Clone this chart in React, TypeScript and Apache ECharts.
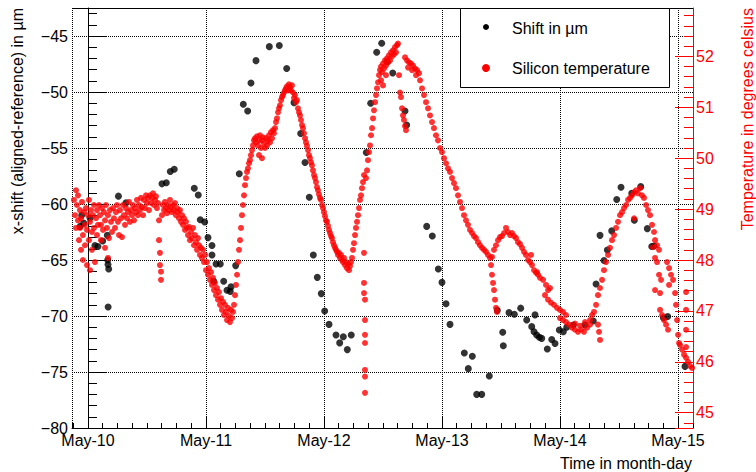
import React, { useEffect, useRef } from "react";
import * as echarts from "echarts";

// Hours are counted from May-10 00:00 (local time).
const HOUR = 3600 * 1000;
const DAY = 24 * HOUR;
const ORIGIN = new Date(2016, 4, 10).getTime();
const toTime = (h: number) => ORIGIN + h * HOUR;
const MONTHS = ["Jan", "Feb", "Mar", "Apr", "May", "Jun", "Jul", "Aug", "Sep", "Oct", "Nov", "Dec"];

const timeRange = [-3.25, 123.05]; // hours
const shiftRange = [-80, -42.5]; // µm
const tempRange = [44.7, 52.95]; // °C

// x-shift (aligned - reference): [hours, µm]
const shiftPoints: [number, number][] = [
  [-1.57, -62.0], [-1.28, -61.0], [-0.87, -61.7], [0.41, -61.25], [1.42, -63.7], [2.03, -63.8],
  [2.99, -63.3], [3.93, -62.8], [4.01, -65.0], [4.07, -65.4], [4.21, -65.8], [4.1, -69.2],
  [6.2, -59.3], [7.73, -59.9], [15.05, -58.2], [15.93, -58.1], [16.74, -57.1], [17.55, -56.9],
  [21.62, -58.6], [22.43, -59.2], [22.84, -61.4], [23.74, -61.6], [24.41, -63.0], [25.22, -63.7],
  [25.22, -64.55], [26.04, -65.35], [26.91, -65.35], [25.57, -66.9], [27.6, -66.9], [28.27, -67.7],
  [28.94, -67.8], [29.09, -67.4], [30.04, -65.5], [30.77, -57.3], [31.59, -51.1], [32.48, -51.7],
  [33.15, -49.2], [34.17, -47.2], [36.88, -45.95], [38.91, -45.85], [40.41, -47.9], [41.9, -50.95],
  [43.26, -53.7], [44.14, -56.3], [45.01, -59.4], [45.83, -64.55], [46.64, -66.55], [47.45, -68.0],
  [48.14, -69.55], [49.02, -70.75], [50.44, -71.7], [51.19, -72.4], [51.93, -71.85], [52.74, -73.0],
  [53.55, -71.7], [56.61, -55.4], [57.5, -51.0], [58.72, -46.45], [59.74, -45.65], [60.88, -47.3],
  [61.98, -48.3], [64.48, -51.7], [64.82, -52.95], [68.89, -62.0], [70.03, -62.85], [71.25, -65.8],
  [72.0, -67.0], [72.82, -68.9], [73.63, -70.75], [76.54, -73.3], [77.35, -74.7], [78.17, -73.6],
  [79.06, -77.0], [80.08, -77.0], [81.62, -75.35], [83.25, -69.5], [84.35, -71.45], [84.47, -72.65],
  [85.63, -69.7], [86.71, -69.85], [88.01, -69.3], [89.23, -70.35], [90.25, -70.95], [90.92, -69.9],
  [90.72, -71.4], [91.8, -71.9], [91.26, -71.7], [92.28, -72.0], [93.42, -72.95], [94.32, -72.1],
  [94.99, -72.45], [95.86, -71.25], [96.68, -71.4], [97.37, -71.0], [98.71, -70.8], [101.09, -70.8],
  [102.78, -70.45], [103.33, -67.15], [104.14, -62.8], [104.95, -65.05], [105.63, -64.1], [106.52, -62.4],
  [107.54, -59.6], [108.41, -58.5], [110.59, -59.05], [111.12, -61.45], [112.42, -58.45], [113.76, -62.2],
  [114.66, -63.8], [115.12, -63.75], [117.02, -70.15], [117.91, -70.05], [121.43, -74.5],
];

// Silicon temperature, one list per day: [hours, °C]
const tempMay10: [number, number][] = [
  [-2.85, 49.18], [-2.64, 48.88], [-2.44, 49.37], [-2.44, 48.63], [-2.24, 49.08], [-2.03, 48.78],
  [-2.03, 49.27], [-1.83, 48.39], [-1.63, 48.98], [-1.63, 48.63], [-1.42, 48.2], [-1.42, 48.82],
  [-1.22, 49.14], [-1.02, 48.49], [-1.02, 48.0], [-0.81, 48.94], [-0.61, 48.69], [-0.61, 48.29],
  [-0.41, 49.02], [-0.2, 47.9], [-0.2, 48.59], [0, 48.88], [0.2, 48.39], [0.2, 49.18],
  [0.41, 47.8], [0.41, 48.75], [0.61, 48.98], [0.81, 48.2], [0.81, 48.55], [1.02, 48.88],
  [1.22, 49.08], [1.22, 48.63], [1.42, 47.96], [1.63, 48.82], [1.83, 48.98], [1.83, 48.49],
  [2.03, 48.69], [2.24, 49.08], [2.44, 48.88], [2.64, 48.39], [2.64, 48.69], [2.85, 49.02],
  [3.05, 48.59], [3.25, 48.94], [3.46, 48.78], [3.46, 48.24], [3.66, 49.08], [3.86, 48.63],
  [4.07, 48.04], [4.07, 48.88], [4.27, 48.43], [4.47, 48.98], [4.68, 48.75], [4.88, 48.55],
  [5.09, 49.02], [5.29, 48.82], [5.49, 48.63], [5.7, 48.94], [5.9, 49.08], [6.1, 48.75],
  [6.31, 48.49], [6.51, 48.98], [6.71, 48.82], [6.92, 48.45], [7.12, 49.08], [7.32, 48.88],
  [7.53, 48.69], [7.73, 49.02], [7.93, 48.82], [8.14, 48.94], [8.34, 49.14], [8.54, 48.75],
  [8.75, 48.98], [8.95, 48.88], [9.15, 49.08], [9.36, 48.78], [9.56, 49.02], [9.76, 48.94],
  [9.97, 49.18], [10.17, 48.88], [10.37, 49.08], [10.58, 48.98], [10.78, 49.22], [10.98, 49.04],
  [11.19, 48.88], [11.39, 49.18], [11.59, 49.02], [11.8, 49.27], [12.0, 49.12], [12.2, 49.22],
  [12.41, 48.98], [12.61, 49.27], [12.81, 49.12], [13.02, 49.22], [13.22, 49.31], [13.42, 49.08],
  [13.63, 49.18], [13.83, 49.25], [14.03, 49.02], [14.24, 49.12], [14.44, 48.78], [14.44, 48.39],
  [14.64, 48.14], [14.64, 47.9], [14.85, 47.77], [14.85, 47.61], [15.05, 48.88], [15.25, 49.08],
  [15.46, 48.98], [15.66, 49.14], [15.87, 49.02], [16.07, 48.92], [16.27, 49.08], [16.48, 48.98],
  [16.68, 49.18], [16.88, 49.04], [17.09, 48.94], [17.29, 49.08], [17.49, 48.98], [17.7, 49.12],
  [17.9, 48.88], [18.1, 49.02], [18.31, 48.94], [18.51, 48.82], [18.71, 48.98], [18.92, 48.75],
  [19.12, 48.88], [19.32, 48.69], [19.53, 48.82], [19.73, 48.59], [19.93, 48.75], [20.14, 48.63],
  [20.34, 48.49], [20.54, 48.65], [20.75, 48.39], [20.95, 48.55], [21.15, 48.43], [21.36, 48.63],
  [21.56, 48.29], [21.76, 48.49], [21.97, 48.35], [22.17, 48.2], [22.37, 48.43], [22.58, 48.29],
  [22.78, 48.1], [22.98, 48.24], [23.19, 48.04], [23.39, 48.2], [23.59, 47.96], [23.8, 48.1],
];

const tempMay11: [number, number][] = [
  [24.0, 47.8], [24.2, 47.96], [24.41, 47.71], [24.61, 47.84], [24.81, 47.61], [25.02, 47.76],
  [25.22, 47.51], [25.42, 47.65], [25.63, 47.41], [25.83, 47.55], [26.03, 47.31], [26.24, 47.45],
  [26.44, 47.22], [26.64, 47.37], [26.85, 47.12], [27.05, 47.25], [27.25, 47.02], [27.46, 47.18],
  [27.66, 46.92], [27.86, 47.12], [28.07, 46.98], [28.27, 46.82], [28.47, 47.06], [28.68, 46.9],
  [28.88, 46.78], [29.09, 47.02], [29.29, 46.86], [29.49, 46.98], [29.7, 47.12], [29.9, 47.31],
  [30.1, 47.51], [30.31, 47.71], [30.51, 47.96], [30.71, 48.2], [30.92, 48.39], [31.12, 48.63],
  [31.32, 48.88], [31.53, 49.08], [31.73, 49.27], [31.93, 49.47], [32.14, 49.61], [32.34, 49.73],
  [32.54, 49.8], [32.75, 49.9], [32.95, 49.96], [33.15, 50.06], [33.36, 50.16], [33.56, 50.25],
  [33.76, 50.35], [33.97, 50.39], [34.17, 50.31], [34.37, 50.43], [34.58, 50.25], [34.78, 50.35],
  [34.78, 50.06], [34.98, 50.45], [35.19, 50.2], [35.39, 50.35], [35.39, 50.0], [35.59, 50.41],
  [35.8, 50.29], [36.0, 50.2], [36.21, 50.39], [36.41, 50.25], [36.61, 50.35], [36.82, 50.45],
  [37.02, 50.31], [37.22, 50.51], [37.43, 50.39], [37.63, 50.55], [37.83, 50.49], [38.04, 50.59],
  [38.24, 50.71], [38.44, 50.78], [38.65, 50.9], [38.85, 50.98], [39.05, 51.04], [39.26, 51.14],
  [39.46, 51.2], [39.66, 51.24], [39.87, 51.29], [40.07, 51.33], [40.27, 51.37], [40.48, 51.41],
  [40.68, 51.33], [40.88, 51.45], [41.09, 51.39], [41.29, 51.33], [41.49, 51.43], [41.7, 51.29],
  [41.9, 51.18], [42.1, 51.24], [42.31, 51.1], [42.51, 51.14], [42.71, 50.98], [42.92, 50.9],
  [43.12, 50.84], [43.32, 50.75], [43.53, 50.65], [43.73, 50.59], [43.93, 50.49], [44.14, 50.39],
  [44.34, 50.31], [44.54, 50.24], [44.75, 50.16], [44.95, 50.06], [45.15, 50.0], [45.36, 49.92],
  [45.56, 49.86], [45.76, 49.76], [45.97, 49.67], [46.17, 49.61], [46.37, 49.53], [46.58, 49.43],
  [46.78, 49.37], [46.98, 49.29], [47.19, 49.22], [47.39, 49.18], [47.6, 49.08], [47.8, 49.02],
];

const tempMay12: [number, number][] = [
  [48.0, 48.94], [48.21, 48.86], [48.41, 48.78], [48.61, 48.75], [48.82, 48.67], [49.02, 48.59],
  [49.22, 48.53], [49.43, 48.47], [49.63, 48.43], [49.83, 48.35], [50.04, 48.29], [50.24, 48.24],
  [50.44, 48.2], [50.65, 48.16], [50.85, 48.1], [51.05, 48.14], [51.26, 48.04], [51.46, 48.1],
  [51.66, 48.0], [51.87, 47.96], [52.07, 48.04], [52.27, 47.9], [52.48, 47.96], [52.68, 47.84],
  [52.88, 47.92], [53.09, 47.8], [53.29, 47.88], [53.49, 47.96], [53.7, 48.04], [53.9, 48.2],
  [54.1, 48.33], [54.31, 48.49], [54.51, 48.63], [54.71, 48.75], [54.92, 48.88], [55.12, 49.02],
  [55.32, 49.18], [55.53, 49.27], [55.73, 49.41], [55.93, 49.53], [56.14, 49.67], [56.14, 48.14],
  [56.14, 47.55], [56.14, 47.35], [56.34, 47.22], [56.34, 46.82], [56.34, 46.53], [56.34, 46.37],
  [56.34, 45.84], [56.34, 45.71], [56.34, 45.39], [56.55, 49.61], [56.75, 49.76], [56.95, 49.96],
  [57.16, 50.12], [57.36, 50.25], [57.56, 50.45], [57.77, 50.59], [57.97, 50.78], [58.17, 50.94],
  [58.38, 51.1], [58.58, 51.24], [58.78, 51.37], [58.99, 51.49], [59.19, 51.63], [59.39, 51.73],
  [59.6, 51.8], [59.6, 51.53], [59.8, 51.69], [60.0, 51.86], [60.0, 51.43], [60.21, 51.76],
  [60.41, 51.92], [60.61, 51.82], [60.61, 51.63], [60.82, 51.96], [61.02, 51.88], [61.22, 52.02],
  [61.43, 51.92], [61.63, 52.08], [61.83, 52.0], [62.04, 52.12], [62.24, 52.04], [62.44, 52.18],
  [62.65, 52.08], [62.85, 52.22], [63.05, 52.25], [63.26, 51.63], [63.46, 51.29], [63.66, 51.2],
  [63.87, 50.98], [64.07, 50.84], [64.27, 50.75], [64.48, 50.63], [64.68, 50.55], [64.48, 51.98],
  [64.89, 51.92], [65.09, 51.78], [65.29, 51.88], [65.7, 51.86], [65.9, 51.73], [66.11, 51.82],
  [66.51, 51.76], [66.72, 51.63], [66.92, 51.73], [67.33, 51.67], [67.53, 51.53], [67.94, 51.37],
  [68.34, 51.24], [68.75, 51.1], [69.16, 50.98], [69.56, 50.84], [69.97, 50.71], [70.37, 50.59],
  [70.78, 50.45], [71.19, 50.35], [71.6, 50.2],
];

const tempMay13: [number, number][] = [
  [72.0, 50.12], [72.41, 50.0], [72.82, 49.9], [73.22, 49.8], [73.63, 49.73], [74.04, 49.61],
  [74.44, 49.51], [74.85, 49.41], [75.26, 49.27], [75.66, 49.14], [76.07, 49.02], [76.48, 48.88],
  [76.88, 48.78], [77.29, 48.69], [77.7, 48.59], [78.11, 48.53], [78.51, 48.47], [78.92, 48.43],
  [79.33, 48.35], [79.73, 48.29], [80.14, 48.24], [80.55, 48.2], [80.95, 48.16], [81.36, 48.1],
  [81.77, 48.04], [82.17, 48.06], [81.97, 47.9], [82.17, 47.71], [82.38, 47.55], [82.58, 47.41],
  [82.78, 47.22], [82.99, 47.06], [83.19, 46.98], [82.58, 48.2], [82.99, 48.29], [83.4, 48.39],
  [83.8, 48.45], [84.21, 48.47], [84.62, 48.53], [85.02, 48.63], [85.43, 48.55], [85.84, 48.49],
  [86.24, 48.53], [86.65, 48.47], [87.06, 48.43], [87.46, 48.35], [87.87, 48.31], [88.28, 48.24],
  [88.68, 48.16], [89.09, 48.1], [89.5, 48.0], [89.9, 47.96], [90.1, 48.1], [90.31, 47.9],
  [90.72, 47.8], [91.12, 47.75], [91.33, 47.76], [91.53, 47.71], [91.94, 47.65], [92.55, 47.61],
  [92.95, 47.31], [93.16, 47.51], [93.57, 47.41], [93.57, 47.22], [93.97, 47.45], [94.17, 47.16],
  [94.78, 47.12], [95.39, 47.06],
];

const tempMay14: [number, number][] = [
  [96.0, 47.02], [96.0, 46.86], [96.61, 46.98], [96.61, 46.82], [97.22, 46.92], [97.22, 46.78],
  [97.83, 46.73], [98.44, 46.67], [99.05, 46.63], [99.05, 46.75], [99.66, 46.59], [100.07, 46.71],
  [100.27, 46.63], [100.88, 46.59], [101.09, 46.78], [101.49, 46.67], [102.1, 46.73], [102.1, 46.82],
  [102.51, 46.92], [102.92, 46.98], [103.73, 46.73], [103.94, 46.59], [104.14, 46.43], [103.33, 47.12],
  [103.73, 47.31], [104.14, 47.45], [104.55, 47.61], [104.95, 47.8], [105.36, 47.96], [105.77, 48.1],
  [106.17, 48.24], [106.58, 48.39], [106.99, 48.49], [107.4, 48.63], [107.8, 48.75], [108.21, 48.88],
  [108.62, 48.94], [109.02, 49.02], [109.43, 49.08], [109.84, 49.18], [110.24, 49.22], [110.65, 49.27],
  [111.06, 49.33], [111.06, 48.82], [111.46, 49.37], [111.87, 49.31], [112.28, 49.41], [112.68, 49.27],
  [113.09, 49.22], [113.5, 49.08], [113.9, 48.98], [114.31, 48.88], [114.72, 48.69], [114.92, 48.25],
  [115.12, 48.55], [115.33, 48.39], [115.33, 48.04], [115.33, 47.41], [115.74, 48.29], [115.74, 47.96],
  [116.14, 48.2], [116.14, 47.71], [116.35, 47.35], [116.35, 47.02], [116.55, 47.61], [116.76, 46.92],
  [117.16, 46.82], [117.57, 46.73], [117.77, 47.96], [117.97, 46.63], [118.18, 47.84], [118.18, 47.51],
  [118.58, 47.71], [118.99, 47.61], [119.4, 47.35], [119.6, 47.12], [119.81, 46.82], [120.01, 46.53],
  [120.21, 46.37], [120.42, 46.33], [120.82, 46.24], [121.23, 46.14], [121.64, 46.08], [121.64, 47.37],
  [121.64, 47.02], [121.64, 46.63], [121.64, 46.29], [122.04, 46.0], [122.45, 45.92], [122.86, 45.88],
];

const FONT = '"Liberation Sans", Arial, Helvetica, sans-serif';
const RED = "#ff0000";

const minusLabel = (v: number) => (v < 0 ? "\u2212" + Math.abs(v) : String(v));
const dayLabel = (v: number) => {
  const d = new Date(v);
  return `${MONTHS[d.getMonth()]}-${String(d.getDate()).padStart(2, "0")}`;
};

export default function App() {
  const ref = useRef<HTMLDivElement>(null);

  useEffect(() => {
    document.body.style.margin = "0";
    const chart = echarts.init(ref.current!, undefined, { renderer: "svg" });
    const temps = [...tempMay10, ...tempMay11, ...tempMay12, ...tempMay13, ...tempMay14];

    const gridLeft = 72;
    const gridTop = 8;
    const gridRight = 63;
    const gridBottom = 44;
    const plotRight = 756 - gridRight;

    chart.setOption({
      animation: false,
      backgroundColor: "#fff",
      textStyle: { fontFamily: FONT },
      grid: { left: gridLeft, top: gridTop, right: gridRight, bottom: gridBottom },
      xAxis: [
        {
          // day ticks, labels and vertical grid lines
          type: "time",
          position: "bottom",
          min: toTime(timeRange[0]),
          max: toTime(timeRange[1]),
          minInterval: DAY,
          maxInterval: DAY,
          axisLine: { show: true, lineStyle: { color: "#000", width: 1 } },
          axisTick: { show: true, inside: true, length: 12, lineStyle: { color: "#000" } },
          minorTick: { show: false },
          axisLabel: { formatter: dayLabel, fontSize: 16, color: "#000", fontFamily: FONT, margin: 4 },
          splitLine: { show: true, lineStyle: { type: "dotted", color: "#000", width: 1 } },
        },
        {
          // 3-hour small ticks, same span expressed in hours
          type: "value",
          position: "bottom",
          min: timeRange[0],
          max: timeRange[1],
          splitNumber: 42,
          axisLine: { show: false },
          axisTick: { show: true, inside: true, length: 5, lineStyle: { color: "#000" } },
          axisLabel: { show: false },
          splitLine: { show: false },
        },
      ],
      yAxis: [
        {
          type: "value",
          position: "left",
          min: shiftRange[0],
          max: shiftRange[1],
          interval: 5,
          axisLine: { show: true, lineStyle: { color: "#000", width: 1 } },
          axisTick: { show: true, inside: true, length: 18, lineStyle: { color: "#000" } },
          minorTick: { show: true, splitNumber: 5, length: 9, lineStyle: { color: "#000" } },
          axisLabel: {
            formatter: minusLabel,
            fontSize: 16,
            color: "#000",
            fontFamily: FONT,
            margin: 4,
            showMaxLabel: false,
          },
          splitLine: { show: true, lineStyle: { type: "dotted", color: "#000", width: 1 } },
        },
        {
          type: "value",
          position: "right",
          min: tempRange[0],
          max: tempRange[1],
          splitNumber: 8,
          axisLine: { show: true, lineStyle: { color: RED, width: 1 } },
          axisTick: { show: true, inside: true, length: 18, lineStyle: { color: RED } },
          minorTick: { show: true, splitNumber: 5, length: 9, lineStyle: { color: RED } },
          axisLabel: {
            fontSize: 16,
            color: RED,
            fontFamily: FONT,
            margin: 3,
            showMinLabel: false,
            showMaxLabel: false,
          },
          splitLine: { show: false },
        },
      ],
      series: [
        {
          name: "Shift in µm",
          type: "scatter",
          xAxisIndex: 0,
          yAxisIndex: 0,
          symbolSize: 7,
          itemStyle: { color: "#000" },
          data: shiftPoints.map(([h, v]) => [toTime(h), v]),
        },
        {
          name: "Silicon temperature",
          type: "scatter",
          xAxisIndex: 0,
          yAxisIndex: 1,
          symbolSize: 6,
          itemStyle: { color: RED },
          data: temps.map(([h, t]) => [toTime(h), t]),
        },
      ],
      graphic: [
        {
          type: "line",
          shape: { x1: gridLeft, y1: gridTop + 0.5, x2: plotRight, y2: gridTop + 0.5 },
          style: { stroke: "#000", lineWidth: 1 },
          z: 10,
        },
        {
          type: "rect",
          shape: { x: 460.5, y: gridTop + 0.5, width: 209, height: 79 },
          style: { fill: "#fff", stroke: "#000", lineWidth: 1 },
          z: 20,
        },
        { type: "circle", shape: { cx: 486, cy: 27, r: 3 }, style: { fill: "#000" }, z: 21 },
        { type: "circle", shape: { cx: 486, cy: 68, r: 4 }, style: { fill: RED }, z: 21 },
        {
          type: "text",
          x: 512,
          y: 28,
          z: 21,
          style: { text: "Shift in µm", fill: "#000", font: `16px ${FONT}`, align: "left", verticalAlign: "middle" },
        },
        {
          type: "text",
          x: 512,
          y: 68,
          z: 21,
          style: {
            text: "Silicon temperature",
            fill: "#000",
            font: `16px ${FONT}`,
            align: "left",
            verticalAlign: "middle",
          },
        },
        {
          type: "text",
          x: 17,
          y: gridTop,
          rotation: Math.PI / 2,
          style: {
            text: "x-shift (aligned-reference) in µm",
            fill: "#000",
            font: `16px ${FONT}`,
            align: "right",
            verticalAlign: "middle",
          },
        },
        {
          type: "text",
          x: 747,
          y: gridTop,
          rotation: Math.PI / 2,
          style: {
            text: "Temperature in degrees celsius",
            fill: RED,
            font: `16px ${FONT}`,
            align: "right",
            verticalAlign: "middle",
          },
        },
        {
          type: "text",
          x: 692,
          y: 463,
          style: {
            text: "Time in month-day",
            fill: "#000",
            font: `16px ${FONT}`,
            align: "right",
            verticalAlign: "middle",
          },
        },
      ],
    });

    return () => chart.dispose();
  }, []);

  return <div ref={ref} style={{ position: "fixed", left: 0, top: 0, width: 756, height: 472 }} />;
}
